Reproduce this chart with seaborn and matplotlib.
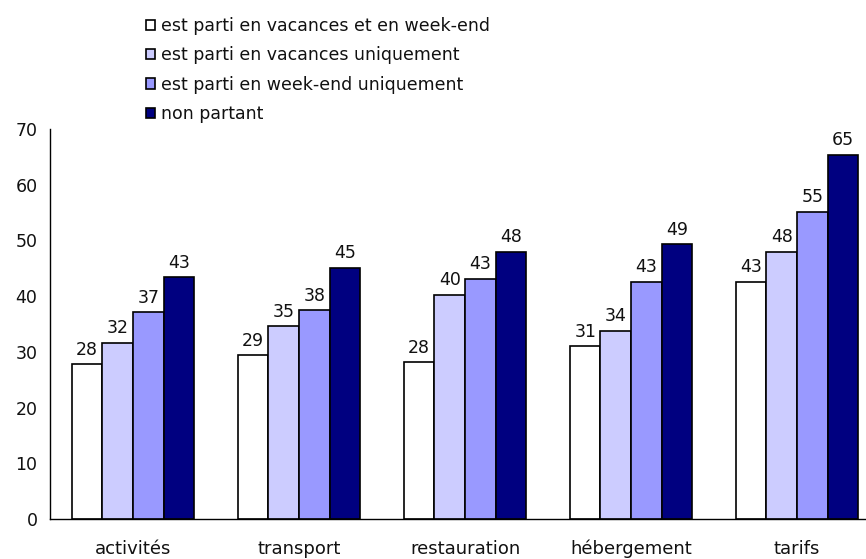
import numpy as np
import pandas as pd
import matplotlib
matplotlib.use("Agg")
import matplotlib.pyplot as plt
import seaborn as sns

categories = ["activités", "transport", "restauration", "hébergement", "tarifs"]
groups = ["est parti en vacances et en week-end",
          "est parti en vacances uniquement",
          "est parti en week-end uniquement",
          "non partant"]
vac_we = [27.8, 29.4, 28.1, 31.0, 42.6]
vac_only = [31.6, 34.6, 40.2, 33.8, 48.0]
we_only = [37.1, 37.5, 43.1, 42.6, 55.1]
non_partant = [43.4, 45.1, 48.0, 49.3, 65.4]
colors = ["#FFFFFF", "#CCCCFF", "#9999FF", "#000080"]

rows = []
for g, vals in zip(groups, [vac_we, vac_only, we_only, non_partant]):
    for c, v in zip(categories, vals):
        rows.append({"cat": c, "groupe": g, "val": v})
df = pd.DataFrame(rows)

sns.set_style("white")
plt.rcParams['font.family'] = ['DejaVu Sans']

fig = plt.figure(figsize=(8.66, 5.59), dpi=100)
ax = fig.add_axes([50/866, 40/559, 830/866, 390/559])

sns.barplot(data=df, x="cat", y="val", hue="groupe", order=categories,
            hue_order=groups, palette=colors, saturation=1, edgecolor="black",
            linewidth=1.2, width=0.735, gap=0, ax=ax, legend=True)

for cont in ax.containers:
    ax.bar_label(cont, fmt="%.0f", padding=4, fontsize=12.5, color="#111111")

ax.set_ylim(0, 70)
ax.set_xlim(-0.5, 4.5)
ax.set_yticks(range(0, 71, 10))
ax.set_xlabel("")
ax.set_ylabel("")
for s in ["top", "right"]:
    ax.spines[s].set_visible(False)
for s in ["left", "bottom"]:
    ax.spines[s].set_color("black")
    ax.spines[s].set_linewidth(1)

ax.tick_params(axis="y", which="major", direction="out", length=5, width=1,
               color="black", labelsize=12.5, pad=4, labelcolor="#111111")
ax.tick_params(axis="x", which="major", length=0, labelsize=13, pad=15,
               labelcolor="#111111")
ax.set_xticks(np.arange(-0.5, 4.6, 1), minor=True)
ax.tick_params(axis="x", which="minor", direction="out", length=5, width=1,
               color="black")

handles, labels = ax.get_legend_handles_labels()
ax.legend_.remove()
fig.legend(handles, labels, loc="upper left",
           bbox_to_anchor=(139/866, 1 - 10/559), frameon=False,
           fontsize=12.5, handlelength=0.55, handleheight=0.55,
           handletextpad=0.3, labelspacing=0.66, borderaxespad=0,
           labelcolor="#111111")

fig.savefig("out.png", dpi=100)
